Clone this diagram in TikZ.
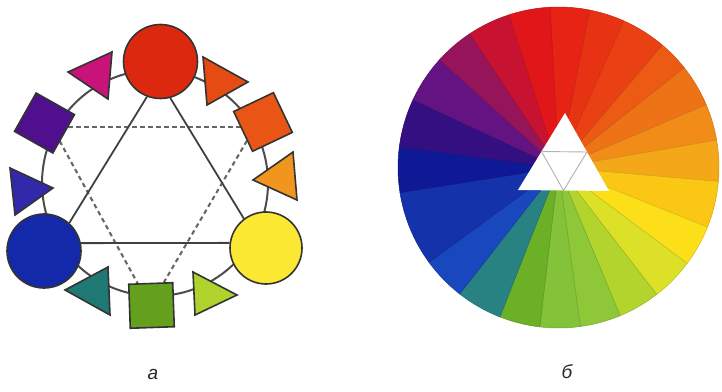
\documentclass[tikz,border=0pt]{standalone}
\usepackage{fontspec}
\setmainfont{Liberation Sans}
\begin{document}
\begin{tikzpicture}[x=1pt,y=1pt,
  outl/.style={draw=black!80, line width=1.6pt, line join=miter},
  bigc/.style={circle, outl, minimum size=74pt, inner sep=0pt},
  sq/.style={rectangle, outl, minimum width=44pt, minimum height=44pt, inner sep=0pt},
  ringline/.style={draw=black!70, line width=2pt},
  solidline/.style={draw=black!75, line width=1.8pt},
  dashline/.style={draw=black!60, line width=2.1pt, dash pattern=on 4.5pt off 3.5pt},
  lbl/.style={font=\fontsize{19}{19}\selectfont\itshape, text=black!85, inner sep=0pt}
]
\useasboundingbox (0,0) rectangle (722,391);
% colours
\definecolor{cRed}{RGB}{220,40,15}
\definecolor{cMag}{RGB}{200,20,120}
\definecolor{cOR}{RGB}{230,75,20}
\definecolor{cPur}{RGB}{80,15,140}
\definecolor{cOrS}{RGB}{232,85,20}
\definecolor{cOr}{RGB}{240,150,30}
\definecolor{cBV}{RGB}{50,40,170}
\definecolor{cBlue}{RGB}{20,40,170}
\definecolor{cYel}{RGB}{250,232,50}
\definecolor{cTeal}{RGB}{30,120,115}
\definecolor{cGrn}{RGB}{100,160,30}
\definecolor{cYG}{RGB}{175,210,45}

% ---------- left figure (a) ----------
\coordinate (ringc) at (155,208);
\draw[ringline] (ringc) circle[radius=113];

% dashed triangle
\coordinate (hexL) at (52,264);
\coordinate (hexR) at (255,264);
\coordinate (hexB) at (150,85);
\draw[dashline] (hexL) -- (hexR);
\draw[dashline] (hexL) -- (hexB);
\draw[dashline] (hexR) -- (hexB);

% big circles (nodes)
\node[bigc, fill=cRed] (red) at (160.5,329.5) {};
\node[bigc, fill=cBlue] (blue) at (44,140) {};
\node[bigc, fill=cYel, minimum size=72pt] (yellow) at (266,143) {};

% squares
\node[sq, fill=cPur, rotate=-29.4] (psq) at (44.5,268) {};
\node[sq, fill=cOrS, rotate=25.4] (osq) at (263,269) {};
\node[sq, fill=cGrn, rotate=2] (gsq) at (151.5,85.5) {};

% triangles
\filldraw[outl, fill=cMag] (68,319) -- (112,339) -- (108,292) -- cycle;
\filldraw[outl, fill=cOR] (203,334) -- (248,309) -- (207,286) -- cycle;
\filldraw[outl, fill=cOr] (253,211) -- (293,239) -- (297,191) -- cycle;
\filldraw[outl, fill=cBV] (10,223) -- (53,203) -- (15,176) -- cycle;
\filldraw[outl, fill=cTeal] (65,101) -- (108,124) -- (110,76) -- cycle;
\filldraw[outl, fill=cYG] (193,119) -- (237,96) -- (195,76) -- cycle;

% solid connectors between the big circles
\draw[solidline] (red.249.5) -- (blue.48);
\draw[solidline] (red.285.8) -- (yellow.127.7);
\draw[solidline] (blue.12.5) -- (yellow.172);

\node[lbl] (la) at (153,17) {а};

% ---------- right figure (b) ----------
\coordinate (W) at (558.5,223.5);
\def\R{160.5}
\foreach \a/\b/\r/\g/\bb in {
 93/78.7/230/35/20, 78.7/66/232/50/20, 66/49.7/233/65/20, 49.7/38.4/236/90/20,
 38.4/23/238/115/22, 23/9.8/241/140/25, 9.8/-5/244/168/25, -5/-21.8/250/200/20,
 -21.8/-36.7/252/222/25, -36.7/-52.3/220/225/40, -52.3/-67.4/178/212/45,
 -67.4/-82.2/142/199/55, -82.2/-96.7/132/194/58, -96.7/-111.4/108/176/40,
 -111.4/-128/40/130/130, -128/-143.8/25/72/190, -143.8/-171/20/50/170,
 -171/-187.4/15/25/150, -187.4/-205/52/15/130, -205/-222.2/100/20/130,
 -222.2/-236.5/150/20/90, -236.5/-252.1/200/18/50, -252.1/-267/225/22/25}{
  \definecolor{wc}{RGB}{\r,\g,\bb}
  \filldraw[fill=wc, draw=wc!85!black, line width=0.5pt, line join=round]
    (W) -- ++(\a:\R pt) arc[start angle=\a, end angle=\b, radius=\R pt] -- cycle;
}
% white centre triangle
\coordinate (tA) at (565,278);
\coordinate (tL) at (518,201);
\coordinate (tR) at (609,200);
\fill[white] (tA) -- (tL) -- (tR) -- cycle;
\draw[black!30, line width=0.9pt] (541.5,239.5) -- (587,239) -- (563.5,200.5) -- cycle;

\node[lbl] (lb) at (567,19) {б};
\end{tikzpicture}
\end{document}
